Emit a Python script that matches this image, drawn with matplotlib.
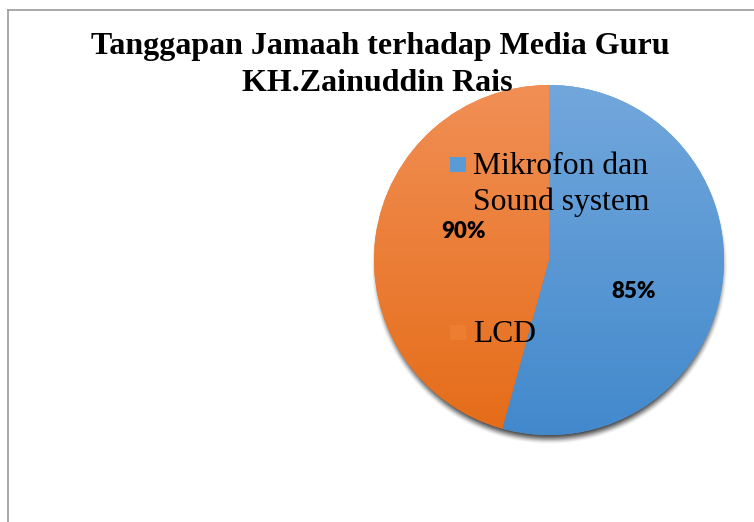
import numpy as np
import matplotlib
matplotlib.use('Agg')
import matplotlib.pyplot as plt
from matplotlib.patches import Rectangle
from matplotlib.lines import Line2D

# ---- data ----
categories = ['Mikrofon dan\nSound system', 'LCD']
slice_shares = [54.3, 45.7]          # angular share of each slice as drawn
value_labels = ['85%', '90%']        # data labels printed on the slices
title_lines = ['Tanggapan Jamaah terhadap Media Guru', 'KH.Zainuddin Rais']

top_colors = ['#72a7dc', '#f18f55']
bottom_colors = ['#4289cc', '#e56c18']
marker_colors = ['#5b9bd5', '#ed7d31']

W, H = 754, 522
fig = plt.figure(figsize=(W / 100, H / 100), dpi=100)
ax = fig.add_axes([0, 0, 1, 1])

cx, cy, R = 549, H - 260, 175

# soft shadow under the pie
N = 400
pad = 40
xs = np.linspace(cx - R - pad, cx + R + pad, N)
ys = np.linspace(cy + R + pad, cy - R - pad, N)
X, Y = np.meshgrid(xs, ys)
d = np.hypot(X - (cx + 0.5), Y - (cy - 6))
t = np.clip((R + 4 - d) / 11.0, 0, 1)
alpha = 0.75 * t * t * (3 - 2 * t)
shadow = np.zeros((N, N, 4))
shadow[..., 3] = alpha
ax.imshow(shadow, extent=(cx - R - pad, cx + R + pad, cy - R - pad, cy + R + pad),
          origin='upper', zorder=0.5, interpolation='bilinear')

wedges, _ = ax.pie(slice_shares, center=(cx, cy), radius=R, startangle=90,
                   counterclock=False, colors=marker_colors,
                   wedgeprops=dict(linewidth=0))
for w in wedges:
    w.set_zorder(1)

# vertical gradient fill, clipped to each wedge
def hex2rgb(h):
    return np.array([int(h[i:i + 2], 16) for i in (1, 3, 5)]) / 255.0

for w, tc, bc in zip(wedges, top_colors, bottom_colors):
    s = np.linspace(0, 1, 256)[:, None, None]
    grad = (1 - s) * hex2rgb(tc) + s * hex2rgb(bc)
    im = ax.imshow(grad, extent=(cx - R, cx + R, cy - R, cy + R), origin='upper',
                   zorder=1.1, interpolation='bilinear', aspect='auto')
    im.set_clip_path(w)

# data labels
label_pos = [(634, H - 291), (463, H - 231)]
for (x, y), lab in zip(label_pos, value_labels):
    ax.text(x, y, lab, ha='center', va='center', family='Lato',
            fontweight='heavy', fontsize=16, color='black', zorder=3)

# legend (drawn over the pie, as in the reference)
leg_rows = [H - 174, H - 342]
for yb, cat, mc in zip(leg_rows, categories, marker_colors):
    ax.add_patch(Rectangle((450, yb + 2), 16, 15, facecolor=mc, edgecolor='none', zorder=3))
    for i, line in enumerate(cat.split('\n')):
        ax.text(473, yb - i * 36, line, ha='left', va='baseline',
                family='Liberation Serif', fontsize=22.8, color='black', zorder=3)

# title
ax.text(380, H - 54, title_lines[0], ha='center', va='baseline',
        family='Liberation Serif', fontweight='bold', fontsize=23, zorder=4)
ax.text(377, H - 91, title_lines[1], ha='center', va='baseline',
        family='Liberation Serif', fontweight='bold', fontsize=23, zorder=4)

# chart frame (partly visible)
ax.add_line(Line2D([8, 8], [0, H - 9.5], color='#999999', lw=1.2, zorder=5))
ax.add_line(Line2D([8, W], [H - 9.5, H - 9.5], color='#999999', lw=1.2, zorder=5))

ax.set_xlim(0, W)
ax.set_ylim(0, H)
ax.set_aspect('auto')
ax.axis('off')

fig.savefig('out.png', dpi=100)
